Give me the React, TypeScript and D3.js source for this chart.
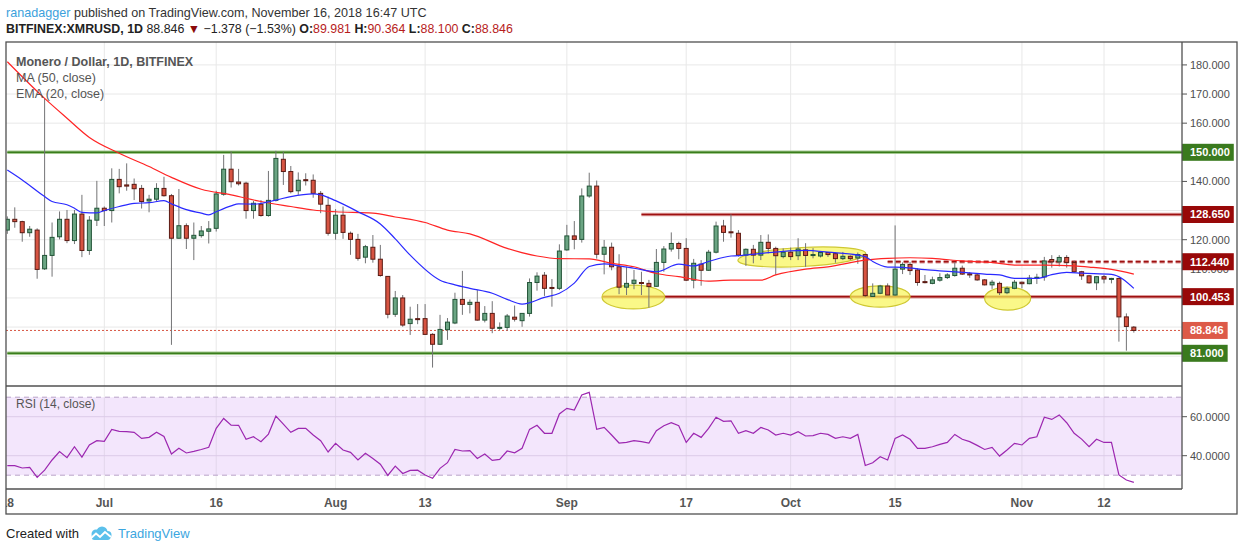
import * as d3 from 'd3';
import React from 'react';

type Bar = [number, number, number, number]; // open, high, low, close

const firstDay = '2018-06-18';
const lastDay = '2018-11-16';

const junBars: Bar[] = [
  [123.3, 128.0, 122.0, 127.0], [127.0, 131.1, 124.1, 126.2], [126.2, 126.5, 119.3, 122.4],
  [122.4, 124.7, 121.0, 123.6], [123.3, 123.9, 106.6, 109.8], [110.0, 168.5, 109.6, 114.6],
  [114.6, 125.9, 107.3, 120.8], [121.0, 129.7, 120.1, 127.0], [127.0, 130.2, 118.8, 119.7],
  [119.7, 130.2, 118.5, 128.8], [128.8, 135.4, 114.0, 116.3], [116.3, 128.1, 114.8, 126.7],
  [126.7, 140.2, 124.7, 130.8],
];
const julBars: Bar[] = [
  [130.8, 131.4, 124.7, 130.0], [130.0, 144.5, 125.9, 140.7], [140.7, 144.3, 135.9, 138.2],
  [138.8, 146.2, 136.8, 138.4], [139.0, 141.0, 133.6, 137.5], [137.6, 138.8, 130.7, 133.1],
  [133.3, 135.4, 129.4, 133.9], [133.9, 139.4, 133.1, 137.6], [137.6, 141.6, 134.8, 135.1],
  [135.1, 135.7, 83.9, 120.5], [120.5, 137.4, 120.3, 124.8], [124.8, 125.6, 116.8, 120.5],
  [120.5, 125.9, 113.0, 121.5], [121.4, 124.7, 120.7, 123.0], [122.9, 126.4, 118.7, 123.7],
  [123.9, 136.8, 122.8, 135.7], [135.6, 149.1, 135.1, 144.2], [144.2, 150.3, 137.9, 139.9],
  [139.8, 144.3, 138.6, 139.2], [139.4, 139.9, 127.2, 130.0], [130.0, 133.3, 127.2, 132.5],
  [132.2, 133.6, 127.9, 128.3], [128.3, 143.6, 127.9, 133.5], [133.5, 150.5, 133.1, 147.9],
  [147.6, 150.2, 138.8, 143.4], [143.4, 145.3, 135.9, 136.5], [136.8, 143.1, 135.4, 140.4],
  [140.6, 142.8, 138.6, 140.3], [140.4, 142.4, 134.4, 135.9], [135.9, 136.7, 129.1, 132.2],
  [131.8, 134.8, 121.4, 122.2],
];
const augBars: Bar[] = [
  [122.2, 130.5, 120.0, 128.4], [128.4, 131.4, 120.3, 122.5], [122.2, 122.8, 114.8, 120.1],
  [120.1, 122.0, 112.8, 113.6], [114.0, 118.2, 111.9, 117.6], [117.4, 121.6, 112.1, 113.3],
  [113.3, 118.2, 107.3, 107.7], [107.4, 107.4, 93.0, 94.4], [94.4, 102.4, 93.5, 100.0],
  [100.0, 101.0, 90.1, 90.7], [91.2, 97.0, 87.3, 92.7], [92.9, 97.9, 91.0, 92.7],
  [92.9, 97.9, 87.3, 87.5], [87.5, 87.9, 76.1, 84.1], [84.1, 94.2, 83.9, 89.2],
  [89.1, 93.1, 85.6, 91.7], [91.4, 101.8, 91.0, 99.5], [99.5, 109.3, 94.2, 97.8],
  [97.8, 99.5, 94.7, 98.5], [98.5, 102.7, 92.2, 92.4], [92.4, 97.2, 91.6, 94.7],
  [94.7, 98.9, 87.9, 89.6], [89.6, 91.6, 89.0, 89.9], [89.9, 94.5, 88.8, 93.8],
  [93.4, 97.4, 91.9, 92.7], [92.2, 94.7, 90.1, 94.7], [94.7, 106.7, 93.6, 105.3],
  [105.3, 108.8, 102.5, 107.5], [107.8, 108.9, 100.7, 103.3], [103.6, 106.5, 97.0, 103.3],
  [103.3, 118.4, 102.7, 116.1],
];
const sepBars: Bar[] = [
  [116.5, 125.1, 116.2, 121.3], [121.3, 126.4, 116.7, 120.1], [120.1, 137.6, 119.0, 135.0],
  [135.0, 143.0, 134.4, 138.4], [138.4, 140.3, 113.5, 115.0], [115.0, 119.9, 108.1, 117.4],
  [117.4, 119.0, 109.5, 110.7], [110.7, 115.0, 101.3, 103.7], [103.7, 110.7, 101.0, 105.0],
  [105.0, 109.6, 103.0, 106.1], [105.3, 109.0, 101.0, 105.0], [105.0, 106.2, 96.7, 103.9],
  [104.0, 116.8, 103.9, 112.2], [112.2, 117.8, 109.0, 116.8], [116.8, 122.5, 115.9, 118.7],
  [118.7, 119.3, 113.3, 117.0], [117.0, 120.5, 105.8, 106.1], [106.1, 113.4, 103.3, 111.9],
  [111.6, 113.0, 104.2, 109.5], [109.5, 116.5, 109.3, 115.7], [115.7, 126.2, 115.3, 124.7],
  [124.7, 126.8, 119.3, 122.5], [122.7, 128.7, 120.7, 122.5], [122.2, 123.3, 114.2, 114.7],
  [114.7, 117.0, 111.0, 116.7], [116.7, 118.2, 111.9, 114.7], [114.7, 121.6, 113.0, 119.1],
  [119.1, 121.8, 115.3, 117.0], [117.0, 117.6, 107.9, 114.5], [114.2, 117.0, 113.6, 115.7],
];
const octBars: Bar[] = [
  [115.7, 117.3, 113.0, 114.2], [114.5, 120.5, 113.0, 116.8], [116.5, 118.8, 110.7, 114.6],
  [114.6, 117.1, 113.6, 114.9], [114.4, 115.8, 113.9, 115.6], [115.6, 115.8, 114.1, 114.9],
  [115.2, 115.6, 112.1, 113.5], [113.5, 115.8, 113.0, 114.3], [114.3, 114.6, 113.0, 113.5],
  [113.7, 115.6, 111.7, 114.9], [114.9, 115.2, 100.4, 100.8], [100.5, 105.0, 100.4, 101.6],
  [101.6, 104.5, 101.3, 104.1], [104.1, 105.0, 101.0, 101.0], [101.0, 124.9, 100.8, 109.9],
  [109.9, 112.2, 108.2, 111.5], [111.5, 112.4, 107.9, 109.4], [109.6, 110.2, 104.2, 105.3],
  [105.6, 107.9, 105.0, 105.3], [105.0, 107.3, 104.7, 106.2], [106.1, 108.5, 105.6, 107.0],
  [107.0, 108.5, 106.5, 107.9], [107.7, 112.2, 107.3, 110.2], [110.2, 111.1, 107.9, 108.2],
  [108.3, 108.9, 106.9, 107.9], [107.9, 108.3, 105.9, 106.2], [106.2, 106.5, 104.3, 104.5],
  [104.5, 106.2, 103.1, 105.4], [105.0, 105.6, 101.0, 101.8], [101.8, 103.9, 101.3, 103.3],
  [103.3, 106.2, 103.0, 105.4],
];
const novBars: Bar[] = [
  [105.4, 105.6, 103.3, 104.9], [104.9, 107.9, 104.7, 106.8], [106.8, 108.3, 104.8, 107.1],
  [107.2, 114.1, 105.9, 112.7], [113.2, 114.7, 110.4, 112.4], [112.4, 114.7, 110.8, 113.9],
  [113.9, 114.7, 110.4, 112.2], [112.2, 112.8, 108.6, 109.0], [109.0, 109.3, 106.2, 107.6],
  [107.6, 107.8, 104.9, 105.2], [105.2, 107.5, 102.7, 107.3], [107.3, 107.9, 105.0, 106.5],
  [106.4, 106.9, 105.0, 106.7], [106.7, 106.9, 85.0, 93.5], [93.5, 94.7, 81.9, 90.224],
  [89.981, 90.364, 88.1, 88.846],
];

// RSI (14, close), one value per day
const rsiJun = [34.9, 34.9, 33.7, 34.0, 28.9, 32.6, 37.8, 42.1, 39.0, 44.6, 39.3, 45.5, 47.7];
const rsiJul = [47.4, 53.5, 52.5, 52.3, 52.0, 48.9, 49.4, 52.0, 49.9, 40.9, 43.8, 41.4, 42.2, 43.2, 44.3, 54.0,
  59.1, 55.7, 55.6, 48.4, 49.7, 47.2, 51.1, 60.3, 56.2, 52.0, 54.0, 54.0, 50.6, 47.7, 41.9];
const rsiAug = [46.3, 42.9, 41.7, 37.8, 41.2, 38.6, 35.6, 29.9, 34.7, 30.9, 32.5, 32.6, 30.1, 28.4, 33.5, 36.4,
  43.2, 42.4, 42.6, 38.6, 40.9, 37.6, 38.1, 42.4, 41.5, 43.8, 53.5, 55.6, 51.5, 51.5, 61.4];
const rsiSep = [64.3, 63.4, 71.1, 72.5, 53.5, 54.5, 50.6, 46.5, 46.8, 47.7, 47.2, 46.5, 52.8, 55.4, 56.9, 55.4,
  46.8, 51.5, 49.4, 54.0, 59.7, 57.6, 57.9, 51.5, 52.8, 51.5, 54.5, 53.2, 50.6, 51.5];
const rsiOct = [50.6, 52.3, 50.1, 50.3, 51.5, 50.9, 48.9, 49.7, 48.9, 50.9, 35.0, 36.4, 39.5, 37.8, 48.9, 50.6,
  48.4, 43.8, 43.8, 44.6, 45.8, 46.8, 50.9, 48.4, 47.2, 45.3, 43.2, 44.3, 39.8, 42.9, 46.3];
const rsiNov = [45.5, 48.9, 49.7, 59.7, 58.6, 60.9, 56.9, 51.5, 48.5, 44.6, 48.4, 46.8, 46.8, 30.1, 27.5, 26.3];

const ma50Points: [string, number][] = [
  ['2018-06-18', 181.1], ['2018-06-23', 168.5], ['2018-06-26', 161.7], ['2018-06-29', 155.1],
  ['2018-07-03', 149.7], ['2018-07-07', 145.1], ['2018-07-10', 141.4], ['2018-07-14', 137.3],
  ['2018-07-18', 135.4], ['2018-07-22', 133.1], ['2018-07-26', 131.4], ['2018-07-29', 130.2],
  ['2018-08-01', 129.6], ['2018-08-06', 129.1], ['2018-08-09', 127.8], ['2018-08-13', 125.9],
  ['2018-08-16', 123.3], ['2018-08-19', 122.0], ['2018-08-24', 117.0], ['2018-08-28', 114.4],
  ['2018-08-31', 113.5], ['2018-09-04', 113.4], ['2018-09-07', 111.9], ['2018-09-10', 110.7],
  ['2018-09-13', 108.4], ['2018-09-16', 107.3], ['2018-09-20', 105.8], ['2018-09-23', 106.1],
  ['2018-09-27', 106.1], ['2018-09-29', 107.9], ['2018-10-03', 109.9], ['2018-10-06', 110.7],
  ['2018-10-11', 113.0], ['2018-10-14', 113.6], ['2018-10-17', 113.8], ['2018-10-20', 113.6],
  ['2018-10-24', 112.7], ['2018-10-28', 112.2], ['2018-10-31', 111.3], ['2018-11-04', 111.3],
  ['2018-11-08', 111.0], ['2018-11-10', 110.6], ['2018-11-13', 109.8], ['2018-11-16', 108.2],
];
const ema20Points: [string, number][] = [
  ['2018-06-18', 143.9], ['2018-06-20', 140.5], ['2018-06-23', 134.8], ['2018-06-24', 133.1],
  ['2018-06-26', 132.0], ['2018-06-27', 130.8], ['2018-06-28', 129.4], ['2018-06-30', 129.2],
  ['2018-07-01', 130.0], ['2018-07-03', 131.4], ['2018-07-05', 132.5], ['2018-07-07', 132.7],
  ['2018-07-09', 133.4], ['2018-07-10', 132.3], ['2018-07-12', 130.3], ['2018-07-14', 129.1],
  ['2018-07-15', 128.5], ['2018-07-16', 129.6], ['2018-07-18', 131.6], ['2018-07-19', 132.3],
  ['2018-07-21', 132.2], ['2018-07-24', 133.6], ['2018-07-26', 134.8], ['2018-07-29', 135.7],
  ['2018-07-30', 135.4], ['2018-08-01', 133.4], ['2018-08-04', 129.6], ['2018-08-07', 125.4],
  ['2018-08-09', 120.3], ['2018-08-11', 114.7], ['2018-08-15', 106.1], ['2018-08-17', 104.5],
  ['2018-08-19', 103.3], ['2018-08-22', 101.6], ['2018-08-24', 99.5], ['2018-08-26', 97.9],
  ['2018-08-29', 100.2], ['2018-08-31', 101.6], ['2018-09-02', 105.1], ['2018-09-04', 110.8],
  ['2018-09-06', 111.7], ['2018-09-08', 111.0], ['2018-09-10', 110.2], ['2018-09-13', 109.0],
  ['2018-09-16', 111.6], ['2018-09-18', 111.0], ['2018-09-20', 112.5], ['2018-09-23', 114.4],
  ['2018-09-24', 114.5], ['2018-09-27', 115.3], ['2018-10-03', 116.3], ['2018-10-06', 115.7],
  ['2018-10-11', 114.2], ['2018-10-12', 112.5], ['2018-10-14', 110.6], ['2018-10-16', 110.5],
  ['2018-10-19', 109.7], ['2018-10-21', 109.3], ['2018-10-24', 108.8], ['2018-10-27', 108.2],
  ['2018-10-29', 107.9], ['2018-10-31', 106.7], ['2018-11-03', 106.7], ['2018-11-05', 108.0],
  ['2018-11-07', 108.8], ['2018-11-09', 108.5], ['2018-11-13', 108.1], ['2018-11-16', 103.3],
];

const timeTicks: [string, string][] = [
  ['2018-06-18', '18'], ['2018-07-01', 'Jul'], ['2018-07-16', '16'], ['2018-08-01', 'Aug'],
  ['2018-08-13', '13'], ['2018-09-01', 'Sep'], ['2018-09-17', '17'], ['2018-10-01', 'Oct'],
  ['2018-10-15', '15'], ['2018-11-01', 'Nov'], ['2018-11-12', '12'],
];
const priceTicks = [80, 90, 100, 110, 120, 130, 140, 150, 160, 170, 180];
const rsiTicks = [40, 60];
const rsiBands = [30, 70];

const levels = [
  { value: 150, label: '150.000', tone: 'green', from: firstDay, dashed: false },
  { value: 128.65, label: '128.650', tone: 'red', from: '2018-09-11', dashed: false },
  { value: 112.44, label: '112.440', tone: 'red', from: '2018-10-14', dashed: true },
  { value: 100.453, label: '100.453', tone: 'red', from: '2018-09-05T18:00:00Z', dashed: false },
  { value: 81, label: '81.000', tone: 'green', from: firstDay, dashed: false },
];
const lastPrice = 88.846;

const highlights = [
  { date: '2018-09-09T22:00:00Z', halfDays: 4.2, price: 100.33, halfPrice: 4.1, tilt: 0 },
  { date: '2018-10-02T12:00:00Z', halfDays: 8.6, price: 114.06, halfPrice: 3.26, tilt: -3 },
  { date: '2018-10-13T00:00:00Z', halfDays: 4.0, price: 100.5, halfPrice: 3.67, tilt: 0 },
  { date: '2018-10-30T02:00:00Z', halfDays: 3.1, price: 99.8, halfPrice: 3.95, tilt: 0 },
];

const L = 6, R = 1182, TOP = 42, MAIN_B = 386, RSI_B = 489, AX_B = 514, OUT_R = 1237;
const axisFont = '"Liberation Sans", Arial, sans-serif';
const upFill = '#6ba583', upLine = '#225437', downFill = '#d75442', downLine = '#5b1a13';
const tones: Record<string, { line: string; glow: string; box: string }> = {
  green: { line: '#3a7d1c', glow: '#a3c98f', box: '#3a7a1e' },
  red: { line: '#9e1010', glow: '#dc9a9a', box: '#980808' },
};

const textWidth = (s: string) => s.split('').reduce((w, c) => w + (c === '.' ? 3.06 : 6.12), 0);

export default function App() {
  const days = d3.utcDay.range(new Date(firstDay), d3.utcDay.offset(new Date(lastDay), 1));
  const bars = [...junBars, ...julBars, ...augBars, ...sepBars, ...octBars, ...novBars]
    .map((b, i) => ({ date: days[i], o: b[0], h: b[1], l: b[2], c: b[3] }));
  const rsi = [...rsiJun, ...rsiJul, ...rsiAug, ...rsiSep, ...rsiOct, ...rsiNov]
    .map((v, i) => ({ date: days[i], v }));

  const x = d3.scaleUtc()
    .domain([new Date('2018-07-01'), new Date('2018-11-12')])
    .range([104.3, 1104]);
  const y = d3.scaleLinear().domain([81, 150]).range([353.3, 152.3]);
  const ry = d3.scaleLinear().domain([40, 60]).range([455.7, 416.7]);

  const avgLine = d3.line<[string, number]>()
    .x((d) => x(new Date(d[0])))
    .y((d) => y(d[1]))
    .curve(d3.curveMonotoneX);
  const rsiLine = d3.line<{ date: Date; v: number }>()
    .x((d) => x(d.date))
    .y((d) => ry(d.v));

  const boxLabels = [
    ...levels.map((lv) => ({ v: lv.value, s: lv.label, c: tones[lv.tone].box })),
    { v: lastPrice, s: lastPrice.toFixed(3), c: '#dd5a48' },
  ];
  // plain tick labels that sit fully under a coloured label are not drawn
  const visibleTicks = priceTicks.filter((t) => boxLabels.every((b) => Math.abs(y(t) - y(b.v)) > 6.5));

  return (
    <div style={{ position: 'absolute', left: 0, top: 0 }}>
      <svg width={1240} height={551} style={{ display: 'block', background: '#fff' }}>
        <defs>
          <clipPath id="mainClip"><rect x={L} y={TOP} width={R - L} height={MAIN_B - TOP} /></clipPath>
          <clipPath id="rsiClip"><rect x={L} y={MAIN_B} width={R - L} height={RSI_B - MAIN_B} /></clipPath>
          <clipPath id="axisClip"><rect x={L} y={RSI_B} width={R - L} height={AX_B - RSI_B} /></clipPath>
        </defs>

        {/* header */}
        <text x={6} y={17} fontFamily={axisFont} fontSize={12.6} fill="#333">
          <tspan fill="#3ba1dc">ranadagger</tspan>
          <tspan> published on TradingView.com, November 16, 2018 16:47 UTC</tspan>
        </text>
        <text x={6} y={33} fontFamily={axisFont} fontSize={12.4} fill="#222">
          <tspan fontWeight="bold">BITFINEX:XMRUSD, 1D</tspan>
          <tspan> 88.846 </tspan>
          <tspan fill="#8b0a0a">▼</tspan>
          <tspan> −1.378 (−1.53%) </tspan>
          <tspan fontWeight="bold">O:</tspan><tspan fill="#b71c1c">89.981</tspan>
          <tspan fontWeight="bold"> H:</tspan><tspan fill="#b71c1c">90.364</tspan>
          <tspan fontWeight="bold"> L:</tspan><tspan fill="#b71c1c">88.100</tspan>
          <tspan fontWeight="bold"> C:</tspan><tspan fill="#b71c1c">88.846</tspan>
        </text>

        {/* grid, main pane */}
        <g stroke="#e8e8e8" strokeWidth={1}>
          {priceTicks.map((t) => (
            <line key={t} x1={L} x2={R} y1={y(t)} y2={y(t)} />
          ))}
          {timeTicks.slice(1).map(([d]) => (
            <line key={d} x1={x(new Date(d))} x2={x(new Date(d))} y1={TOP} y2={MAIN_B} />
          ))}
        </g>

        {/* RSI pane background */}
        <rect x={L} y={ry(70)} width={R - L} height={ry(30) - ry(70)} fill="#f3e6fc" />
        <g stroke="rgba(0,0,0,0.07)" strokeWidth={1}>
          {timeTicks.slice(1).map(([d]) => (
            <line key={d} x1={x(new Date(d))} x2={x(new Date(d))} y1={MAIN_B} y2={RSI_B} />
          ))}
        </g>
        <g stroke="#dccbe8" strokeWidth={1}>
          {rsiTicks.map((t) => <line key={t} x1={L} x2={R} y1={ry(t)} y2={ry(t)} />)}
        </g>
        <g stroke="#b9a2c8" strokeWidth={1} strokeDasharray="5,4">
          {rsiBands.map((t) => <line key={t} x1={L} x2={R} y1={ry(t)} y2={ry(t)} />)}
        </g>

        <g clipPath="url(#mainClip)">
          {/* support / resistance levels */}
          {levels.map((lv) => {
            const t = tones[lv.tone];
            const x1 = x(new Date(lv.from));
            return (
              <g key={lv.label}>
                <line x1={x1} x2={R} y1={y(lv.value)} y2={y(lv.value)} stroke={t.glow} strokeWidth={3.5}
                  strokeDasharray={lv.dashed ? '5,3' : undefined} />
                <line x1={x1} x2={R} y1={y(lv.value)} y2={y(lv.value)} stroke={t.line} strokeWidth={1.5}
                  strokeDasharray={lv.dashed ? '5,3' : undefined} />
              </g>
            );
          })}
          <line x1={L} x2={R} y1={y(lastPrice)} y2={y(lastPrice)} stroke={downFill} strokeWidth={1}
            strokeDasharray="2,2" />

          {/* yellow highlight ellipses */}
          {highlights.map((e) => {
            const c = new Date(e.date);
            const cx = x(c);
            const cy = y(e.price);
            const rx = x(d3.utcHour.offset(c, Math.round(e.halfDays * 24))) - cx;
            const ryy = y(e.price - e.halfPrice) - cy;
            return (
              <ellipse key={e.date} cx={cx} cy={cy} rx={rx} ry={ryy}
                transform={`rotate(${e.tilt},${cx},${cy})`}
                fill="#f8f55a" fillOpacity={0.72} stroke="#cfc832" strokeWidth={1.2} />
            );
          })}

          {/* candles */}
          {bars.map((b) => {
            const cx = x(b.date);
            const up = b.c >= b.o;
            const top = y(Math.max(b.o, b.c));
            const bot = y(Math.min(b.o, b.c));
            return (
              <g key={+b.date}>
                <line x1={cx} x2={cx} y1={y(b.h)} y2={y(b.l)} stroke="#737375" strokeWidth={1} />
                <rect x={cx - 2} y={top} width={4} height={Math.max(bot - top, 1)}
                  fill={up ? upFill : downFill} stroke={up ? upLine : downLine} strokeWidth={1} />
              </g>
            );
          })}

          {/* moving averages */}
          <path d={avgLine(ma50Points) ?? ''} fill="none" stroke="#ff2424" strokeWidth={1.2} />
          <path d={avgLine(ema20Points) ?? ''} fill="none" stroke="#2a2aff" strokeWidth={1.2} />
        </g>

        {/* RSI line */}
        <g clipPath="url(#rsiClip)">
          <path d={rsiLine(rsi) ?? ''} fill="none" stroke="#9c27b0" strokeWidth={1.2} />
        </g>

        {/* legends */}
        <g fontFamily={axisFont} fill="#555">
          <text x={16} y={66} fontSize={12.5} fontWeight="bold">Monero / Dollar, 1D, BITFINEX</text>
          <text x={16} y={82} fontSize={12.5}>MA (50, close)</text>
          <text x={16} y={98} fontSize={12.5}>EMA (20, close)</text>
          <text x={16} y={408} fontSize={12}>RSI (14, close)</text>
        </g>

        {/* price axis */}
        <g fontFamily={axisFont} fontSize={11} fill="#4e4e4e">
          {priceTicks.map((t) => (
            <line key={t} x1={R} x2={R + 5} y1={y(t)} y2={y(t)} stroke="#555" />
          ))}
          {visibleTicks.map((t) => (
            <text key={t} x={1190} y={y(t) + 4}>{t.toFixed(3)}</text>
          ))}
          {rsiTicks.map((t) => (
            <g key={t}>
              <line x1={R} x2={R + 5} y1={ry(t)} y2={ry(t)} stroke="#555" />
              <text x={1190} y={ry(t) + 4}>{t.toFixed(4)}</text>
            </g>
          ))}
        </g>
        <g fontFamily={axisFont} fontSize={11} fontWeight="bold" fill="#fff">
          {boxLabels.map((lb) => (
            <g key={lb.s}>
              <rect x={R} y={y(lb.v) - 8.5} width={8 + textWidth(lb.s) + 4} height={17} fill={lb.c} />
              <text x={1190} y={y(lb.v) + 4}>{lb.s}</text>
            </g>
          ))}
        </g>

        {/* time axis */}
        <g clipPath="url(#axisClip)" fontFamily={axisFont} fontSize={12} fontWeight="bold" fill="#555"
          textAnchor="middle">
          {timeTicks.map(([d, s]) => (
            <text key={d} x={x(new Date(d))} y={507}>{s}</text>
          ))}
        </g>

        {/* frames */}
        <g fill="none" stroke="#505050" strokeWidth={1.3}>
          <rect x={L} y={TOP} width={OUT_R - L} height={AX_B - TOP} />
          <line x1={L} x2={R} y1={MAIN_B} y2={MAIN_B} />
          <line x1={L} x2={R} y1={RSI_B} y2={RSI_B} />
          <line x1={R} x2={R} y1={TOP} y2={RSI_B} />
        </g>

        {/* footer */}
        <text x={6} y={538} fontFamily={axisFont} fontSize={13} fill="#222">Created with</text>
        <g transform="translate(88,526)">
          <circle cx={8} cy={8} r={4.5} fill="#5bc0eb" />
          <circle cx={14} cy={6} r={5.5} fill="#5bc0eb" />
          <circle cx={19.5} cy={9} r={4} fill="#5bc0eb" />
          <rect x={3.5} y={8} width={19} height={6} rx={3} fill="#5bc0eb" />
          <polyline points="2,13 8,7.5 12,11 17,6 23,11" fill="none" stroke="#fff" strokeWidth={2} />
        </g>
        <text x={118} y={538} fontFamily={axisFont} fontSize={13} fill="#3ba6e0">TradingView</text>
      </svg>
    </div>
  );
}
